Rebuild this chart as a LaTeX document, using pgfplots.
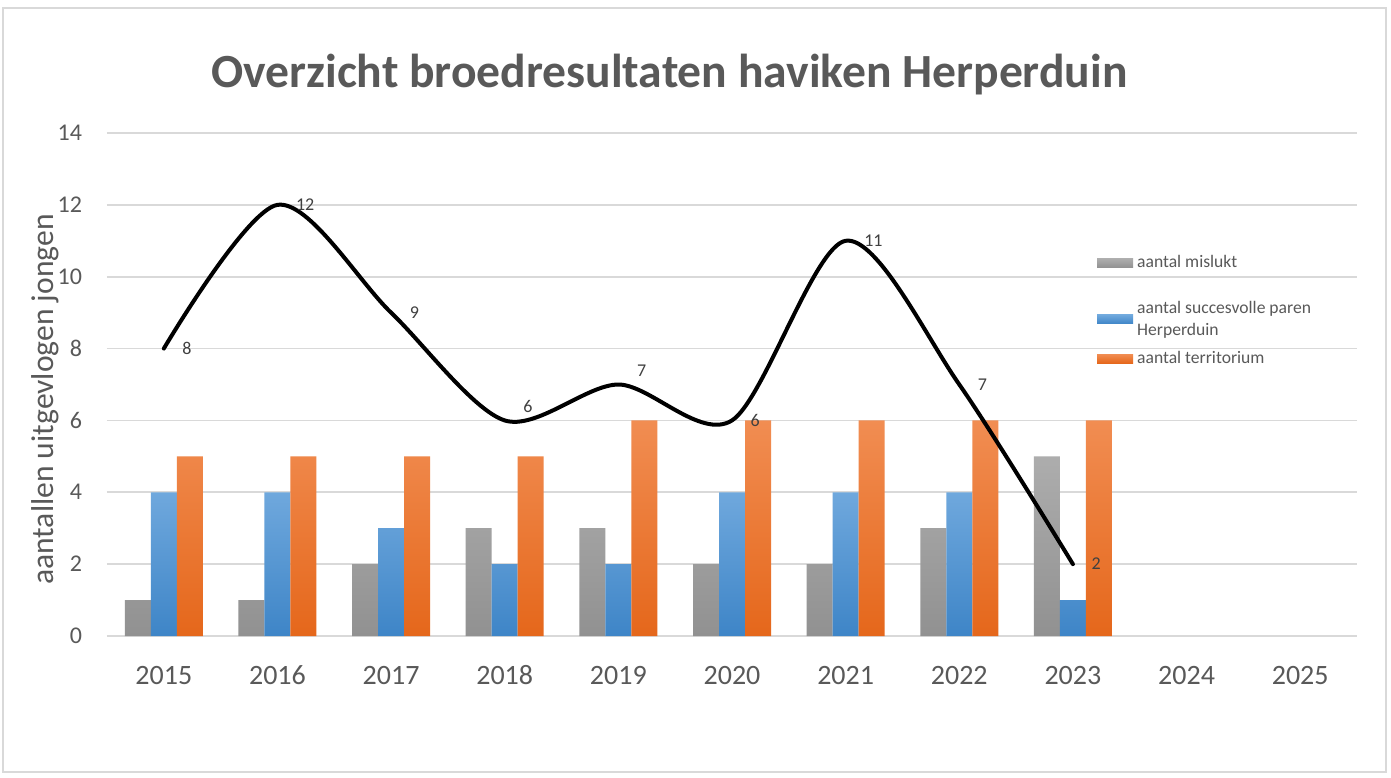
\documentclass[border=0pt]{standalone}
\usepackage{pgfplots}
\pgfplotsset{compat=1.18}
\usepackage{fontspec}
\setmainfont{Carlito}
\definecolor{txt}{HTML}{595959}
\definecolor{lbl}{HTML}{404040}
\definecolor{gridc}{HTML}{D9D9D9}
\definecolor{grayT}{HTML}{ADADAD}
\definecolor{grayB}{HTML}{919191}
\definecolor{blueT}{HTML}{6FA8DD}
\definecolor{blueB}{HTML}{3E85C7}
\definecolor{orT}{HTML}{F18D52}
\definecolor{orB}{HTML}{E5671B}
\pgfplotsset{barleg/.style={legend image code/.code={\fill[##1] (0pt,-2.25pt) rectangle (18pt,2.25pt);}}}
\pgfplotstableread{
x y dy
0 8 0
1 12 0
2 9 0
3 6 7
4 7 7
5 6 0
6 11 0
7 7 0
8 2 0
}\jongen
\begin{document}
\begin{tikzpicture}
\path[fill=white] (-53.5pt,-70.5pt) rectangle (642pt,318pt);
\draw[gridc, line width=0.8pt] (-52pt,-68pt) rectangle (639.5pt,314pt);
\begin{axis}[
  at={(0pt,0pt)}, anchor=south west,
  scale only axis, width=625pt, height=251.5pt,
  xmin=-0.5, xmax=10.5, ymin=0, ymax=14,
  xtick={0,1,2,3,4,5,6,7,8,9,10},
  xticklabels={2015,2016,2017,2018,2019,2020,2021,2022,2023,2024,2025},
  ytick={0,2,4,6,8,10,12,14},
  ymajorgrids, major grid style={gridc, line width=0.8pt},
  axis line style={draw=none},
  major tick length=0pt,
  /pgf/number format/assume math mode=true,
  tick label style={color=txt},
  yticklabel style={font=\fontsize{12}{14}\selectfont, xshift=-9pt},
  xticklabel style={font=\fontsize{14}{17}\selectfont, text height=1.4ex, text depth=0.2ex, yshift=-14pt},
  ylabel={aantallen uitgevlogen jongen},
  ylabel style={at={(axis description cs:-0.0496,0.47)}, anchor=center, color=txt, font=\fontsize{15.8}{18}\selectfont},
  title={\textbf{Overzicht broedresultaten haviken Herperduin}},
  title style={at={(axis description cs:0.45,1.092)}, anchor=center, color=txt, font=\fontsize{23.8}{28}\selectfont},
  legend style={at={(axis description cs:0.787,0.773)}, anchor=north west, draw=none, fill=none,
    font=\fontsize{8.8}{11}\selectfont, text=txt, row sep=2.5pt,
    cells={anchor=west, align=left}},
  legend cell align=left,
]
\addplot[ybar, bar width=13pt, bar shift=-13pt, draw=none, top color=grayT, bottom color=grayB, barleg]
  coordinates {(0,1) (1,1) (2,2) (3,3) (4,3) (5,2) (6,2) (7,3) (8,5)};
\addlegendentry{aantal mislukt}
\addlegendimage{empty legend}
\addlegendentry{\rule{0pt}{0.5pt}}
\addplot[ybar, bar width=13pt, bar shift=0pt, draw=none, top color=blueT, bottom color=blueB, barleg]
  coordinates {(0,4) (1,4) (2,3) (3,2) (4,2) (5,4) (6,4) (7,4) (8,1)};
\addlegendentry{aantal succesvolle paren\\Herperduin}
\addplot[ybar, bar width=13pt, bar shift=13pt, draw=none, top color=orT, bottom color=orB, barleg]
  coordinates {(0,5) (1,5) (2,5) (3,5) (4,6) (5,6) (6,6) (7,6) (8,6)};
\addlegendentry{aantal territorium}
\addplot[black, line width=2pt, smooth, tension=0.5, line cap=round, line join=round, forget plot,
  nodes near coords, point meta=explicit,
  visualization depends on={\thisrow{dy} \as \dy},
  every node near coord/.append style={anchor=west, xshift=5pt, yshift=\dy pt, color=lbl,
    font=\fontsize{9}{10}\selectfont}]
  table[x=x, y=y, meta=y] {\jongen};
\end{axis}
\end{tikzpicture}
\end{document}
